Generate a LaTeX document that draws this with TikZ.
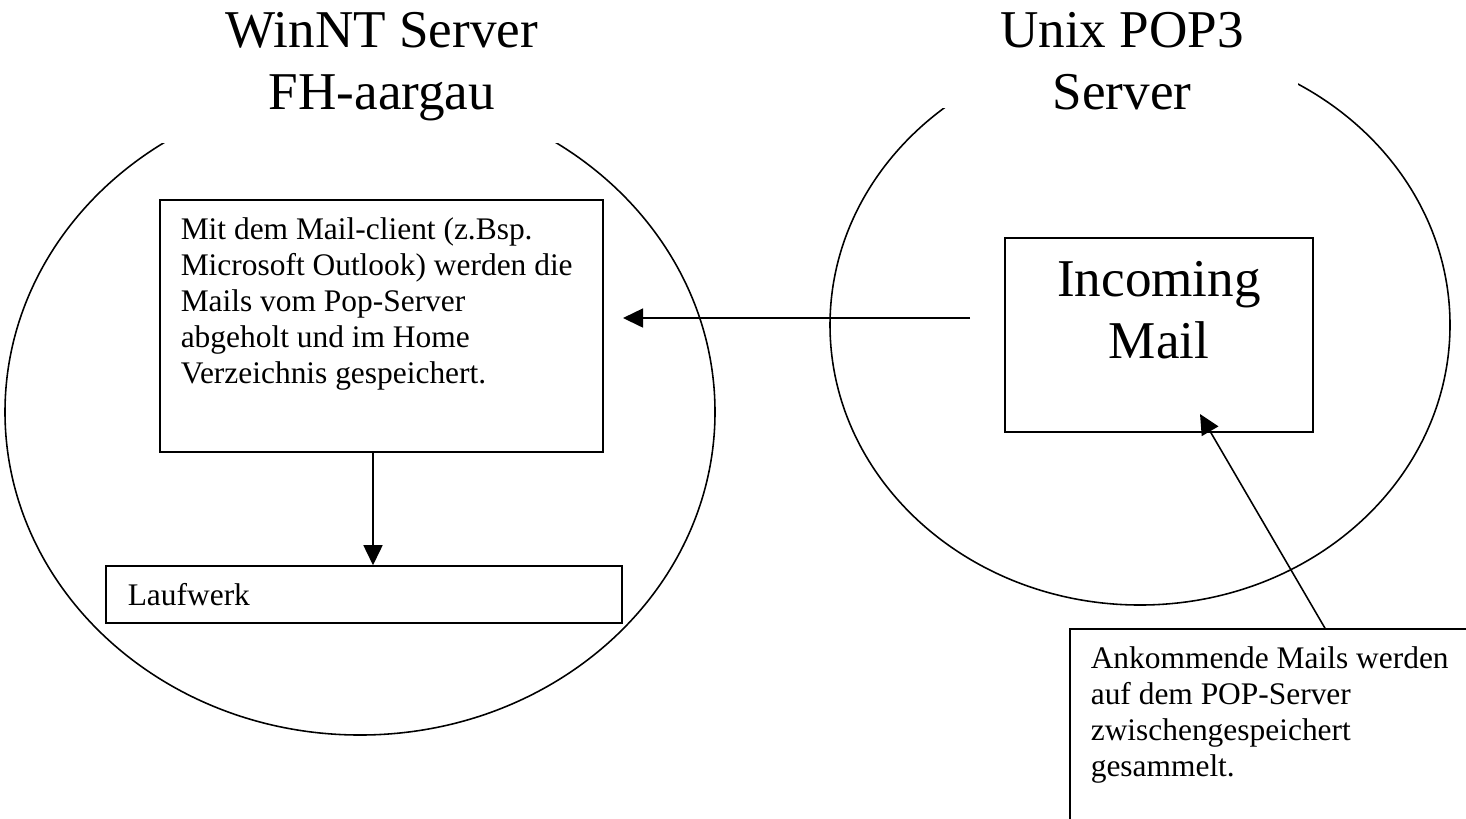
\documentclass[tikz,border=0pt]{standalone}
\usepackage{fontspec}
\setmainfont{Liberation Serif}
\usetikzlibrary{shapes.geometric,arrows.meta}

% one pixel of the drawing
\newcommand\pxu{0.35pt}

\begin{document}
\begin{tikzpicture}[x=0.35pt, y=-0.35pt, line width=0.55pt,
    server/.style={ellipse, draw, inner sep=0pt},
    mask/.style={fill=white, inner sep=0pt},
    frame/.style={draw, inner sep=0pt},
    body/.style={inner sep=0pt, align=left, anchor=north west,
        font=\fontsize{11}{12.6}\selectfont},
    big/.style={inner sep=0pt, align=center, anchor=north,
        font=\fontsize{18.6}{21.7}\selectfont},
    fetch/.style={-{Triangle[length=20*\pxu, width=19*\pxu]}},
    ]

    \useasboundingbox (0,0) rectangle (1466,818);
    \clip (0,0) rectangle (1466,818);

    % the two servers
    \node[server, minimum width=710*\pxu, minimum height=646*\pxu] (winnt) at (360,412) {};
    \node[server, minimum width=620*\pxu, minimum height=560*\pxu] (unix) at (1140,325) {};

    % the title boxes hide the top of the ellipses
    \node[mask, minimum width=460*\pxu, minimum height=143*\pxu] (winnt-title) at (382,71.5) {};
    \node[mask, minimum width=362*\pxu, minimum height=108*\pxu] (unix-title) at (1117,54) {};
    \node[big] (winnt-name) at (382,12) {WinNT Server\\FH-aargau};
    \node[big] (unix-name) at (1122,12) {Unix POP3\\Server};

    % boxes
    \node[frame, minimum width=443*\pxu, minimum height=252*\pxu] (client) at (381.5,326) {};
    \node[frame, minimum width=516*\pxu, minimum height=57*\pxu] (drive) at (364,594.5) {};
    \node[frame, minimum width=308*\pxu, minimum height=194*\pxu] (inbox) at (1159,335) {};
    \node[frame, minimum width=412*\pxu, minimum height=201*\pxu] (note) at (1276,729.5) {};

    \node[body] (client-text) at (180,217) {Mit dem Mail-client (z.Bsp.\\Microsoft Outlook) werden die\\Mails vom Pop-Server\\abgeholt und im Home\\Verzeichnis gespeichert.};
    \node[body] (drive-text) at (127,583) {Laufwerk};
    \node[big] (inbox-text) at (1159,261) {Incoming\\Mail};
    \node[body] (note-text) at (1090,646) {Ankommende Mails werden\\auf dem POP-Server\\zwischengespeichert\\gesammelt.};

    % connectors
    \coordinate (pop-out) at (970,318);
    \coordinate (pop-in) at (623,318);
    \coordinate (store) at (373,0);
    \coordinate (note-foot) at (1325,0);
    \coordinate (cache) at (1200,414);

    \draw[fetch] (pop-out) -- (pop-in);
    \draw[fetch] (client.south -| store) -- (drive.north -| store);
    \draw[fetch] (note.north -| note-foot) -- (cache);
\end{tikzpicture}
\end{document}
